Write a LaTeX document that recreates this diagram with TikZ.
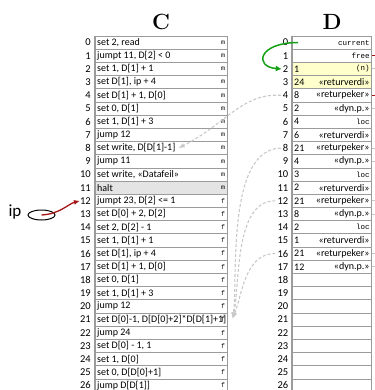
\documentclass[tikz,border=0pt]{standalone}
\usepackage{fontspec}
\newfontfamily\cf{Carlito}
\newfontfamily\mf{Liberation Mono}
\usetikzlibrary{arrows.meta,shapes.geometric}
\definecolor{rowline}{RGB}{155,155,155}
\definecolor{haltfill}{RGB}{228,228,228}
\definecolor{pale}{RGB}{255,255,204}
\definecolor{ipred}{RGB}{165,20,20}
\definecolor{grn}{RGB}{20,160,20}
\definecolor{retgray}{RGB}{200,200,200}
\newcommand\dtt[1]{{\mf\fontsize{7.5}{9}\selectfont #1}}
\begin{document}
\begin{tikzpicture}[x=1pt,y=-1pt,
  rowbox/.style={draw=rowline,line width=0.7pt,minimum width=132pt,minimum height=13.19pt,inner sep=0pt,anchor=north west},
  drowbox/.style={rowbox,minimum width=79pt},
  ctext/.style={font=\cf\fontsize{10}{12}\selectfont,inner sep=0pt,anchor=west},
  idx/.style={font=\cf\fontsize{10.5}{12}\selectfont,inner sep=0pt,anchor=east},
  tag/.style={font=\mf\fontsize{6.5}{8}\selectfont,inner sep=0pt,anchor=east},
  title/.style={font=\fontsize{22}{24}\selectfont\bfseries,inner sep=0pt},
  retarrow/.style={draw=retgray,line width=1.1pt,dash pattern=on 3pt off 2pt,-{Latex[length=6pt,width=5pt]}},
  stubred/.style={draw=ipred,line width=1pt},
  stubgray/.style={draw=retgray,line width=1pt}]
\useasboundingbox (0,0) rectangle (374,390);

% backgrounds of special rows
\fill[haltfill] (95,{35.6+13.19*11}) rectangle ++(132,13.19);
\fill[pale] (292,{35.6+13.19*2}) rectangle ++(79,26.38);

\node[title] (ctitle) at (161,22) {C};
\node[title] (dtitle) at (332,22) {D};

\foreach \i/\t in {0/{set 2, read},1/{jumpt 11, D[2] < 0},2/{set 1, D[1] + 1},3/{set D[1], ip + 4},
  4/{set D[1] + 1, D[0]},5/{set 0, D[1]},6/{set 1, D[1] + 3},7/{jump 12},8/{set write, D[D[1]-1]},
  9/{jump 11},10/{set write, «Datafeil»},11/{halt},12/{jumpt 23, D[2] <= 1},13/{set D[0] + 2, D[2]},
  14/{set 2, D[2] - 1},15/{set 1, D[1] + 1},16/{set D[1], ip + 4},17/{set D[1] + 1, D[0]},
  18/{set 0, D[1]},19/{set 1, D[1] + 3},20/{jump 12},21/{set D[0]-1, D[D[0]+2]*D[D[1]+1]},
  22/{jump 24},23/{set D[0] - 1, 1},24/{set 1, D[0]},25/{set 0, D[D[0]+1]},26/{jump D[D[1]]}}{
  \node[rowbox] (c\i) at (95,{35.6+13.19*\i}) {};
  \node[tag] (cm\i) at ([xshift=-2.5pt]c\i.east) {\ifnum\i<12 m\else f\fi};
  \node[ctext] (ct\i) at ([xshift=2pt]c\i.west) {\t};
  \node[idx] (ci\i) at ([xshift=-4pt]c\i.west) {\i};
}
\draw[rowline,line width=1.6pt] (c0.north west) -- (c26.south west);

\foreach \i/\v/\l in {0/{}/{\dtt{current}},1/{}/{\dtt{free}},2/1/{\dtt{(n)}},3/24/{«returverdi»},
  4/8/{«returpeker»},5/2/{«dyn.p.»},6/4/{\dtt{loc}},7/6/{«returverdi»},8/21/{«returpeker»},
  9/4/{«dyn.p.»},10/3/{\dtt{loc}},11/2/{«returverdi»},12/21/{«returpeker»},13/8/{«dyn.p.»},
  14/2/{\dtt{loc}},15/1/{«returverdi»},16/21/{«returpeker»},17/12/{«dyn.p.»},
  18/{}/{},19/{}/{},20/{}/{},21/{}/{},22/{}/{},23/{}/{},24/{}/{},25/{}/{},26/{}/{}}{
  \node[drowbox] (d\i) at (292,{35.6+13.19*\i}) {};
  \node[idx] (di\i) at ([xshift=-3.5pt]d\i.west) {\i};
  \node[ctext] (dv\i) at ([xshift=2pt]d\i.west) {\v};
  \node[ctext,anchor=east] (dl\i) at ([xshift=-2pt]d\i.east) {\l};
}
\draw[rowline,line width=1.6pt] (d0.north west) -- (d26.south west);

% stubs leaving to the right
\draw[stubred] (d1.east) -- ++(6,0);
\draw[stubgray] (d2.east) -- ++(6,0);
\draw[stubred] (d4.east) -- ++(6,0);
\foreach \j in {5,8,9,12,13,16,17}{\draw[stubgray] (d\j.east) -- ++(6,0);}

% current -> 2
\draw[grn,line width=1.5pt,-{Latex[length=6pt,width=6pt]}] ([xshift=6pt]d0.west) .. controls +(-40,0) and +(-28,-2) .. ([xshift=-1pt]di2.west);

% ip
\node[font=\cf\fontsize{17}{18}\selectfont,inner sep=0pt] (iptext) at (15,212) {ip};
\node[ellipse,draw,line width=1pt,minimum width=27pt,minimum height=10pt,inner sep=0pt] (ipe) at (41.5,215) {};
\draw[ipred,line width=1.3pt,-{Latex[length=6pt,width=5pt]}] (ipe.center) .. controls (60,214) and (68,204) .. (ci12.west);

% return pointers
\coordinate (t21) at ([xshift=5pt,yshift=1pt]c21.east);
\draw[retarrow] ([xshift=-2pt]di4.west) .. controls (242,93) and (226,124) .. ([xshift=3pt]ct8.east);
\draw[retarrow] ([xshift=-2pt]di8.west) .. controls (226,149) and (238,280) .. (t21);
\draw[retarrow] ([xshift=-2pt]di12.west) .. controls (234,200) and (240,285) .. (t21);
\draw[retarrow] ([xshift=-2pt]di16.west) .. controls (245,253) and (242,295) .. (t21);
\end{tikzpicture}
\end{document}
